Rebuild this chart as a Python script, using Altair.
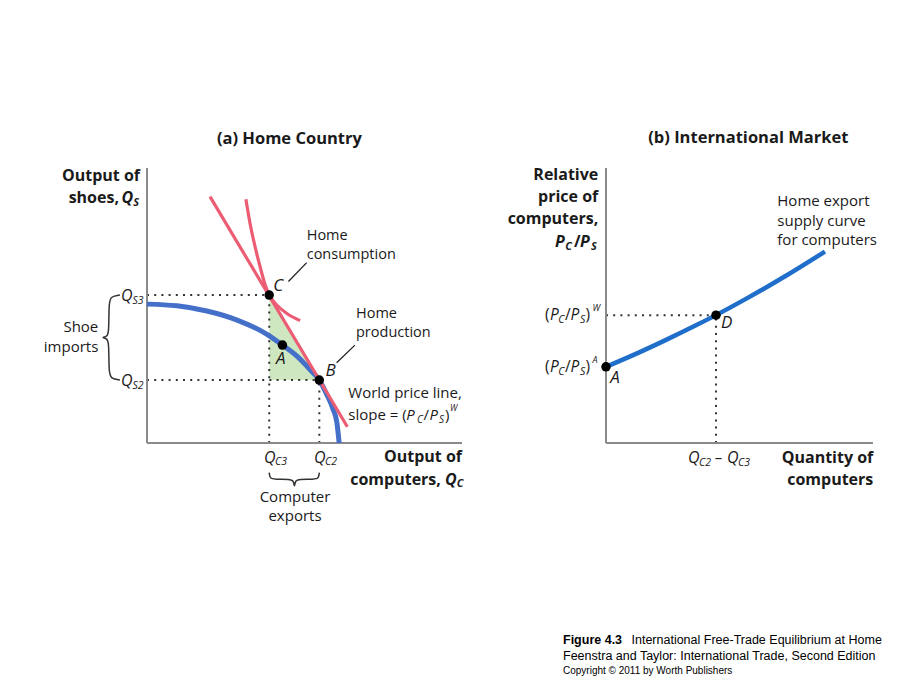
import altair as alt
import pandas as pd

# ---------------- Panel (a): Home Country ----------------
# production possibilities frontier (output of computers Qc, output of shoes Qs)
ppf_qc = [0, 9.5, 19.0, 28.6, 38.1, 43.0, 47.6, 52.4, 54.7, 57.1, 59.0, 60.3, 61.0]
ppf_qs = [50.5, 49.9, 48.0, 44.7, 39.5, 35.6, 31.6, 25.9, 22.9, 17.6, 12.5, 7.3, 0]
# world price line
price_qc = [20.0, 63.6]
price_qs = [89.6, 5.9]
# home indifference curve
ic_qc = [31.4, 32.7, 34.3, 35.9, 37.5, 38.8, 41.2, 44.3, 48.6]
ic_qs = [88.6, 79.9, 71.4, 64.1, 57.5, 53.8, 50.2, 47.2, 44.5]
# points A (autarky), B (production), C (consumption)
pts_a_qc = [43.0, 54.7, 38.8]
pts_a_qs = [35.6, 22.9, 53.8]
# trade triangle C - corner - B
tri_qc = [38.8, 54.7]
tri_top = [53.8, 22.9]
tri_bot = [22.9, 22.9]
# dotted guides (x, y, x2, y2)
guides_a = [(0, 53.8, 38.8, 53.8), (0, 22.9, 54.7, 22.9),
            (38.8, 0, 38.8, 53.8), (54.7, 0, 54.7, 22.9)]
axes_a = [(0, 0, 100, 0), (0, 0, 0, 100)]
leaders_a = [(44.9, 58.7, 50.7, 65.6), (60.2, 29.2, 66.0, 35.6)]
brace_shoe_x = [-8.6, -11.5, -12.1, -12.1, -12.6, -14.0, -14.0, -12.6, -12.1, -12.1, -11.5, -8.6]
brace_shoe_y = [53.8, 53.3, 51.0, 40.5, 38.8, 38.35, 38.35, 37.9, 36.2, 25.7, 23.4, 22.9]
brace_comp_x = [38.8, 39.0, 40.5, 45.5, 46.4, 46.8, 46.8, 47.2, 48.1, 53.1, 54.5, 54.7]
brace_comp_y = [-10.8, -12.9, -13.2, -13.2, -13.6, -15.6, -15.6, -13.6, -13.2, -13.2, -12.9, -10.8]

# ---------------- Panel (b): International Market ----------------
supply_q = [0, 11.2, 22.5, 33.7, 41.2, 52.4, 67.4, 82.0]
supply_p = [27.7, 32.4, 37.5, 42.8, 46.5, 52.4, 60.8, 69.6]
pts_b_q = [0, 41.2]
pts_b_p = [27.7, 46.5]
guides_b = [(0, 46.5, 41.2, 46.5), (41.2, 0, 41.2, 46.5)]
axes_b = [(0, 0, 100, 0), (0, 0, 0, 100)]

FONT = "Open Sans"
BLUE_A = "#4570c9"
BLUE_B = "#1f6fca"
RED = "#ec5c73"
GREEN = "#cfe7c0"
AXIS = "#8a8a8a"

sx_a = alt.Scale(domain=[-46.667, 245.397], nice=False, zero=False)
sx_b = alt.Scale(domain=[-226.966, 117.603], nice=False, zero=False)
sy = alt.Scale(domain=[-89.818, 161.091], nice=False, zero=False)


def X(sc, f="x"):
    return alt.X(f + ":Q", scale=sc, axis=None)


def Y(f="y"):
    return alt.Y(f + ":Q", scale=sy, axis=None)


def rules(rows, sc, **style):
    df = pd.DataFrame(rows, columns=["x", "y", "x2", "y2"])
    return alt.Chart(df).mark_rule(**style).encode(
        x=X(sc), y=Y(), x2="x2:Q", y2="y2:Q")


def path(xs, ys, sc, **style):
    df = pd.DataFrame({"x": xs, "y": ys, "i": list(range(len(xs)))})
    return alt.Chart(df).mark_line(**style).encode(x=X(sc), y=Y(), order="i:Q")


def dots(xs, ys, sc):
    df = pd.DataFrame({"x": xs, "y": ys})
    return alt.Chart(df).mark_circle(size=90, color="black", opacity=1).encode(x=X(sc), y=Y())


def texts(rows, sc, **style):
    df = pd.DataFrame(rows, columns=["label", "x", "y"])
    st = dict(font=FONT, baseline="middle", color="#1a1a1a")
    st.update(style)
    return alt.Chart(df).mark_text(**st).encode(x=X(sc), y=Y(), text="label:N")


dot_style = dict(strokeDash=[2, 5.2], strokeWidth=2, color="#333333")

# ---------- panel (a) layers ----------
tri_df = pd.DataFrame({"x": tri_qc, "y": tri_top, "y2": tri_bot})
layers_a = [
    alt.Chart(tri_df).mark_area(color=GREEN, opacity=1).encode(x=X(sx_a), y=Y(), y2="y2:Q"),
    rules(guides_a, sx_a, **dot_style),
    rules(axes_a, sx_a, strokeWidth=2, color=AXIS),
    path(ppf_qc, ppf_qs, sx_a, color=BLUE_A, strokeWidth=5, interpolate="monotone"),
    path(price_qc, price_qs, sx_a, color=RED, strokeWidth=3.2),
    path(ic_qc, ic_qs, sx_a, color=RED, strokeWidth=3.2, interpolate="monotone"),
    rules(leaders_a, sx_a, strokeWidth=1.3, color="#222222"),
    path(brace_shoe_x, brace_shoe_y, sx_a, color="#333333", strokeWidth=1.5, interpolate="basis"),
    path(brace_comp_x, brace_comp_y, sx_a, color="#333333", strokeWidth=1.5, interpolate="basis"),
    dots(pts_a_qc, pts_a_qs, sx_a),
    texts([("(a) Home Country", 45.2, 110.5)], sx_a, fontSize=16.5, fontWeight="bold", align="center"),
    texts([("Output of", -2.22, 97.09), ("shoes,", -8.89, 88.98),
           ("Output of", 100.0, -5.09), ("computers,", 93.3, -13.45)],
          sx_a, fontSize=16, fontWeight="bold", align="right"),
    texts([("Q", -4.35, 88.98), ("Q", 98.32, -13.45)], sx_a,
          fontSize=16, fontWeight="bold", fontStyle="italic", align="right"),
    texts([("S", -4.35, 87.27), ("C", 98.32, -15.09)], sx_a,
          fontSize=11, fontWeight="bold", fontStyle="italic", align="left"),
    texts([("Q", -8.25, 53.3), ("Q", -8.25, 22.5), ("Q", 37.14, -5.35), ("Q", 53.02, -5.35)],
          sx_a, fontSize=16, fontStyle="italic", align="left"),
    texts([("S3", -4.6, 51.6), ("S2", -4.6, 20.8), ("C3", 40.63, -7.02), ("C2", 56.51, -7.02)],
          sx_a, fontSize=10.5, fontStyle="italic", align="left"),
    texts([("P", 82.3, 10.2), ("P", 89.68, 10.2)],
          sx_a, fontSize=15, fontStyle="italic", align="left"),
    texts([("C", 85.7, 8.3), ("S", 92.7, 8.3)],
          sx_a, fontSize=10, fontStyle="italic", align="left"),
    texts([("W", 96.2, 12.9)], sx_a, fontSize=8.5, fontStyle="italic", align="left"),
    texts([("Shoe", -15.46, 42.18), ("imports", -15.46, 34.91)], sx_a, fontSize=15, align="right"),
    texts([("Computer", 46.98, -19.64), ("exports", 46.98, -26.55)], sx_a, fontSize=15, align="center"),
    texts([("Home", 50.7, 75.38), ("consumption", 50.7, 68.36),
           ("Home", 66.35, 46.8), ("production", 66.35, 39.89)],
          sx_a, fontSize=14.5, align="left"),
    texts([("World price line,", 63.9, 18.18), ("slope = (", 63.9, 10.2),
           ("/", 87.78, 10.2), (")", 94.6, 10.2)],
          sx_a, fontSize=15, align="left"),
    texts([("C", 41.68, 57.2), ("A", 42.44, 30.44), ("B", 58.32, 26.29)], sx_a,
          fontSize=17, fontStyle="italic", align="center"),
]
panel_a = alt.layer(*layers_a)

# ---------- panel (b) layers ----------
layers_b = [
    rules(guides_b, sx_b, **dot_style),
    rules(axes_b, sx_b, strokeWidth=2, color=AXIS),
    path(supply_q, supply_p, sx_b, color=BLUE_B, strokeWidth=4.5, interpolate="monotone"),
    dots(pts_b_q, pts_b_p, sx_b),
    texts([("(b) International Market", 53.3, 110.8)], sx_b, fontSize=16.5, fontWeight="bold", align="center"),
    texts([("Relative", -2.88, 97.45), ("price of", -2.88, 89.35), ("computers,", -2.88, 81.35),
           ("Quantity of", 100.11, -5.56), ("computers", 100.11, -13.45)],
          sx_b, fontSize=16, fontWeight="bold", align="right"),
    texts([("P", -19.1, 73.2), ("P", -9.74, 73.2)], sx_b,
          fontSize=16, fontWeight="bold", fontStyle="italic", align="left"),
    texts([("/", -11.99, 73.2)], sx_b, fontSize=16, fontWeight="bold", align="left"),
    texts([("C", -15.24, 71.38), ("S", -5.62, 71.38)], sx_b,
          fontSize=11, fontWeight="bold", fontStyle="italic", align="left"),
    texts([("(", -22.85, 46.55), ("/", -15.36, 46.55), (")", -7.68, 46.55),
           ("(", -22.85, 27.75), ("/", -15.36, 27.75), (")", -7.68, 27.75)],
          sx_b, fontSize=15.5, align="left"),
    texts([("P", -20.97, 46.55), ("P", -13.30, 46.55), ("P", -20.97, 27.75), ("P", -13.30, 27.75)],
          sx_b, fontSize=15.5, fontStyle="italic", align="left"),
    texts([("C", -17.87, 44.73), ("S", -9.74, 44.73), ("C", -17.87, 25.93), ("S", -9.74, 25.93)],
          sx_b, fontSize=10.5, fontStyle="italic", align="left"),
    texts([("W", -5.06, 48.98), ("A", -5.06, 30.18)], sx_b, fontSize=9, fontStyle="italic", align="left"),
    texts([("Q", 30.71, -5.56), ("Q", 45.32, -5.56)], sx_b, fontSize=16, fontStyle="italic", align="left"),
    texts([("C2", 34.83, -7.27), ("C3", 49.44, -7.27)], sx_b, fontSize=10.5, fontStyle="italic", align="left"),
    texts([("\u2013", 42.13, -5.56)], sx_b, fontSize=15, align="center"),
    texts([("A", 3.37, 23.64), ("D", 45.21, 43.64)], sx_b, fontSize=17, fontStyle="italic", align="center"),
    texts([("Home export", 64.16, 88.0), ("supply curve", 64.16, 80.84), ("for computers", 64.16, 73.82)],
          sx_b, fontSize=15, align="left"),
    # caption
    texts([("Figure 4.3", -16.1, -71.64)], sx_b, font="Liberation Sans", fontSize=12.5,
          fontWeight="bold", align="left", color="black"),
    texts([("International Free-Trade Equilibrium at Home", 9.55, -71.64),
           ("Feenstra and Taylor: International Trade, Second Edition", -16.1, -77.45)],
          sx_b, font="Liberation Sans", fontSize=12.5, align="left", color="black"),
    texts([("Copyright \u00a9 2011 by Worth Publishers", -16.1, -82.73)], sx_b,
          font="Liberation Sans", fontSize=10, align="left", color="black"),
]
panel_b = alt.layer(*layers_b)

chart = (
    alt.layer(panel_a, panel_b)
    .resolve_scale(x="independent", y="independent")
    .properties(width=920, height=690, padding=0,
                autosize=alt.AutoSizeParams(type="none"), background="white")
    .configure_view(stroke=None)
)

chart.save("out.html", embed_options={"renderer": "svg", "actions": False})
